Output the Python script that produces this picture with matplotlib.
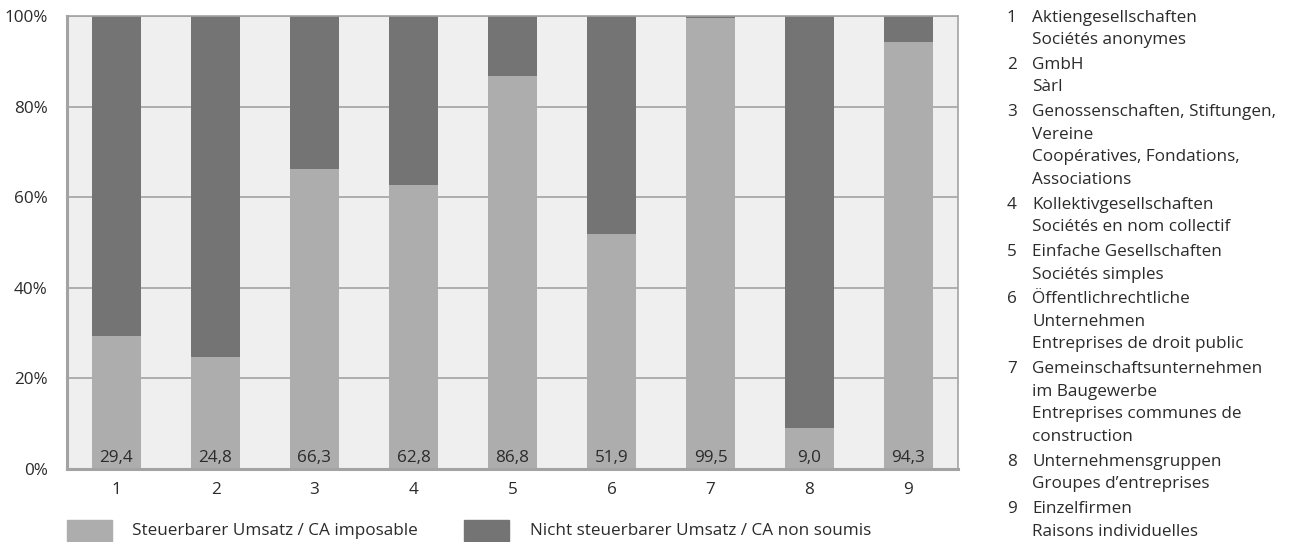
import matplotlib
matplotlib.use("Agg")
import matplotlib.pyplot as plt
from matplotlib.patches import Rectangle

categories = ["1", "2", "3", "4", "5", "6", "7", "8", "9"]
taxable = [29.4, 24.8, 66.3, 62.8, 86.8, 51.9, 99.5, 9.0, 94.3]
non_taxable = [100 - v for v in taxable]
value_labels = ["29,4", "24,8", "66,3", "62,8", "86,8", "51,9", "99,5", "9,0", "94,3"]
yticks = [0, 20, 40, 60, 80, 100]
ytick_labels = ["0%", "20%", "40%", "60%", "80%", "100%"]
series_names = ["Steuerbarer Umsatz / CA imposable",
                "Nicht steuerbarer Umsatz / CA non soumis"]
key_items = [
    ["Aktiengesellschaften", "Sociétés anonymes"],
    ["GmbH", "Sàrl"],
    ["Genossenschaften, Stiftungen,", "Vereine", "Coopératives, Fondations,", "Associations"],
    ["Kollektivgesellschaften", "Sociétés en nom collectif"],
    ["Einfache Gesellschaften", "Sociétés simples"],
    ["Öffentlichrechtliche", "Unternehmen", "Entreprises de droit public"],
    ["Gemeinschaftsunternehmen", "im Baugewerbe", "Entreprises communes de", "construction"],
    ["Unternehmensgruppen", "Groupes d’entreprises"],
    ["Einzelfirmen", "Raisons individuelles"],
]

LIGHT = "#adadad"
DARK = "#747474"
BG = "#efefef"
GRID = "#a3a3a3"
TXT = "#2b2b2b"
FS = 12.3

plt.rcParams['font.family'] = ['Open Sans', 'DejaVu Sans']

W, H = 1292, 542
fig = plt.figure(figsize=(W / 100, H / 100), dpi=100)
ax = fig.add_axes([67 / W, 1 - 469 / H, 891 / W, 453 / H])
ax.set_facecolor(BG)

x = list(range(len(categories)))
ax.bar(x, taxable, width=0.505, color=LIGHT, zorder=2)
ax.bar(x, non_taxable, bottom=taxable, width=0.505, color=DARK, zorder=2)

for xi, lab in zip(x, value_labels):
    ax.text(xi, 0.7, lab, ha="center", va="bottom", fontsize=FS, color=TXT, zorder=3)

ax.set_xlim(-0.5, len(categories) - 0.5)
ax.set_ylim(0, 100)
ax.set_yticks(yticks)
ax.set_yticklabels(ytick_labels, fontsize=FS, color=TXT)
ax.set_xticks(x)
ax.set_xticklabels(categories, fontsize=FS, color=TXT)
ax.tick_params(axis="both", length=0)
ax.tick_params(axis="y", pad=14)
ax.tick_params(axis="x", pad=9)
ax.yaxis.grid(True, color=GRID, linewidth=1.2, zorder=1)
ax.set_axisbelow(True)
for name, sp in ax.spines.items():
    sp.set_color(GRID)
    sp.set_linewidth(1.2)
ax.spines["left"].set_linewidth(2.2)
ax.spines["bottom"].set_linewidth(2.2)

# legend below
leg_specs = [(67, 132, LIGHT, series_names[0]), (464, 530, DARK, series_names[1])]
for px, tx, col, name in leg_specs:
    fig.patches.append(Rectangle((px / W, 1 - 541 / H), 45 / W, 21 / H,
                                 transform=fig.transFigure, color=col))
    fig.text(tx / W, 1 - 531 / H, name, fontsize=FS, color=TXT, va="center", ha="left")

# key list on the right
y = 17.5
line_h = 22.8
gap = 1.55
for i, lines in enumerate(key_items):
    fig.text(1007 / W, 1 - y / H, str(i + 1), fontsize=FS, color=TXT, va="center", ha="left")
    for j, line in enumerate(lines):
        fig.text(1032 / W, 1 - y / H, line, fontsize=FS, color=TXT, va="center", ha="left")
        y += line_h
    y += gap

fig.savefig("out.png", dpi=100, facecolor="white")
